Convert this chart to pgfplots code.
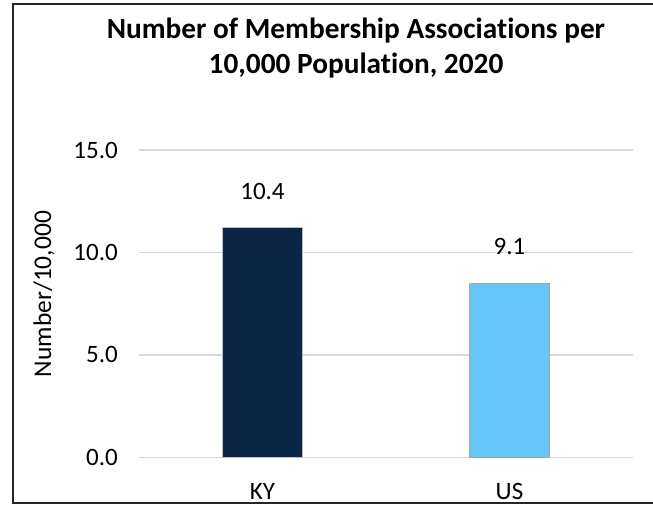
\documentclass[border=0pt]{standalone}
\usepackage{fontspec}
\setmainfont{Carlito}[Ligatures=NoCommon]
\usepackage{pgfplots}
\pgfplotsset{compat=1.18}

\definecolor{kyblue}{HTML}{0B2545}
\definecolor{usblue}{HTML}{66C6F8}
\definecolor{gridgray}{HTML}{D9D9D9}

\begin{document}
\begin{tikzpicture}
% page = reference frame, 1px = 1pt, axis origin at (0,0)
\useasboundingbox (-139pt,-48.7pt) rectangle (514pt,457.3pt);
\draw[line width=1.6pt, black!85] (530pt,-45.7pt) -- (-126pt,-45.7pt) -- (-126pt,453.3pt) -- (530pt,453.3pt);

\begin{axis}[
    at={(0pt,0pt)}, anchor=south west,
    scale only axis,
    width=494pt, height=307.3pt,
    xmin=-0.5, xmax=1.5,
    ymin=0, ymax=15,
    ybar, bar width=80pt, bar shift=0pt,
    xtick={0,1}, xticklabels={KY,US},
    ytick={0,5,10,15},
    ymajorgrids,
    major grid style={gridgray, line width=1.5pt},
    axis line style={draw=none},
    tick style={draw=none},
    /pgf/number format/.cd, fixed, fixed zerofill, precision=1, assume math mode=true,
    /pgfplots/.cd,
    yticklabel style={font=\fontsize{25}{25}\selectfont, inner sep=0pt, xshift=-21pt},
    xticklabel style={font=\fontsize{25}{25}\selectfont, inner sep=0pt, yshift=-22pt},
    nodes near coords,
    point meta=explicit symbolic,
    nodes near coords style={font=\fontsize{25}{25}\selectfont, anchor=south, inner sep=0pt, yshift=28pt},
]
\addplot[fill=kyblue, draw=gray!50, line width=0.8pt] coordinates {(0,11.2) [10.4]};
\addplot[fill=usblue, draw=gray!70, line width=0.8pt] coordinates {(1,8.5) [9.1]};
\end{axis}

\node[anchor=base, font=\bfseries\fontsize{29.3}{29.3}\selectfont] at (217pt,418.8pt) {Number of Membership Associations per};
\node[anchor=base, font=\bfseries\fontsize{29.3}{29.3}\selectfont] at (217pt,383.8pt) {10,000 Population, 2020};
\node[rotate=90, font=\fontsize{25.5}{25.5}\selectfont] at (-95pt,163.3pt) {Number/10,000};
\end{tikzpicture}
\end{document}
